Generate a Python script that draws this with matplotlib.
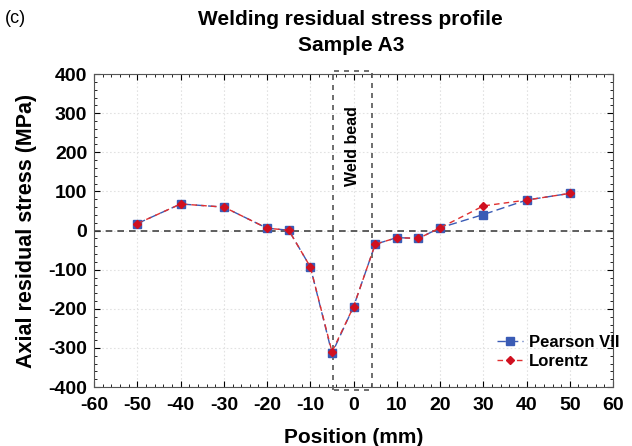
import matplotlib
matplotlib.use("Agg")
import matplotlib.pyplot as plt
from matplotlib.ticker import MultipleLocator

plt.rcParams['font.family'] = ['Liberation Sans', 'DejaVu Sans']
plt.rcParams['axes.unicode_minus'] = False

positions = [-50, -40, -30, -20, -15, -10, -5, 0, 5, 10, 15, 20, 30, 40, 50]
pearson = [18, 68, 60, 6, 1, -93, -314, -194, -35, -18, -20, 7, 41, 78, 95]
lorentz = [18, 68, 60, 6, 1, -93, -310, -194, -35, -18, -20, 7, 63, 78, 95]
weld_left, weld_right = -4.7, 4.3
xticks = list(range(-60, 61, 10))
yticks = list(range(-400, 401, 100))

fig = plt.figure(figsize=(6.32, 4.46), dpi=100)
ax = fig.add_axes([0.149, 0.132, 0.821, 0.702])

ax.plot(positions, pearson, color='#3a5bb5', linestyle=(0, (6, 3)), linewidth=1.0,
        marker='s', markersize=6, markerfacecolor='#3a5bb5', markeredgecolor='#3a5bb5',
        label='Pearson VII', zorder=3)
ax.plot(positions, lorentz, color='#e03030', linestyle=(0, (4, 3)), linewidth=1.0,
        marker='D', markersize=4, markerfacecolor='#d01020', markeredgecolor='#d01020',
        label='Lorentz', zorder=4)

ax.axhline(0, color='#444444', linestyle=(0, (4, 3)), linewidth=1.2, zorder=2)
ax.plot([weld_left, weld_left, weld_right, weld_right, weld_left],
        [-408, 408, 408, -408, -408], color='#555555', linestyle=(0, (3, 3)),
        linewidth=1.2, clip_on=False, zorder=2)
ax.text((weld_left + weld_right) / 2, 215, 'Weld bead', rotation=90, ha='center',
        va='center', fontsize=11.5, fontweight='bold')

ax.set_xlim(-60, 60)
ax.set_ylim(-400, 400)
ax.set_xticks(xticks)
ax.set_yticks(yticks)
ax.xaxis.set_minor_locator(MultipleLocator(2))
ax.yaxis.set_minor_locator(MultipleLocator(20))
ax.tick_params(which='both', direction='in', top=True, right=True, labelsize=14)
ax.tick_params(axis='x', which='major', pad=7)
ax.tick_params(axis='y', which='major', pad=5)
ax.tick_params(which='major', length=4)
ax.tick_params(which='minor', length=2)
for lab in ax.get_xticklabels() + ax.get_yticklabels():
    lab.set_fontweight('bold')
ax.grid(True, which='major', color='#e2e2e2', linestyle=(0, (1.5, 2)), linewidth=0.8)
for s in ax.spines.values():
    s.set_color('#555555')

ax.set_xlabel('Position (mm)', fontsize=15, fontweight='bold', labelpad=10)
ax.set_ylabel('Axial residual stress (MPa)', fontsize=15.5, fontweight='bold', labelpad=8)
fig.text(0.555, 0.978, 'Welding residual stress profile\nSample A3', ha='center',
         va='top', fontsize=15, fontweight='bold', linespacing=1.45)
fig.text(0.008, 0.978, '(c)', ha='left', va='top', fontsize=13)

leg = ax.legend(loc='lower right', bbox_to_anchor=(1.035, 0.02), frameon=False,
                prop={'weight': 'bold', 'size': 12},
                handlelength=1.6, borderaxespad=0.3, handletextpad=0.35, labelspacing=0.25)

fig.savefig('out.png', dpi=100)
